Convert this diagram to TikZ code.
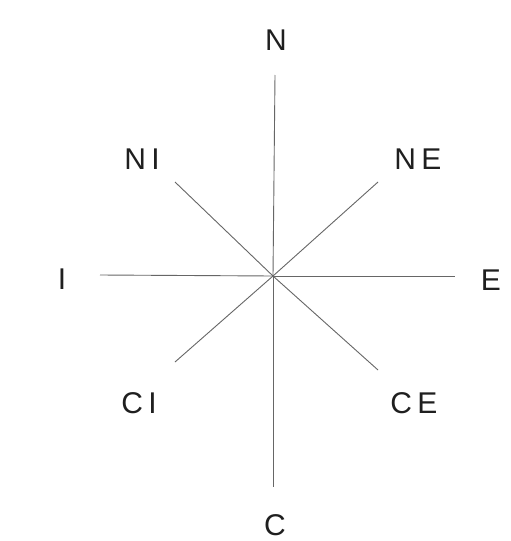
\documentclass[tikz,border=0pt]{standalone}
\usepackage{fontspec}
\setmainfont{Liberation Sans}
\begin{document}
\begin{tikzpicture}[x=1pt,y=-1pt,
  lbl/.style={text=black!88, font=\fontsize{30}{36}\selectfont, inner sep=0pt, anchor=center},
  ray/.style={draw=black!60, line width=0.9pt}]
\useasboundingbox (0,0) rectangle (511,541);
\fill[white] (0,0) rectangle (511,541);
\coordinate (o) at (273,276);
\coordinate (pn) at (275,75);
\coordinate (ps) at (273,487);
\coordinate (pw) at (100,275);
\coordinate (pe) at (455,276);
\coordinate (pnw) at (175,182);
\coordinate (pne) at (378,182);
\coordinate (psw) at (175,362);
\coordinate (pse) at (378,370);
\draw[ray] (o) -- (pn);
\draw[ray] (o) -- (ps);
\draw[ray] (o) -- (pw);
\draw[ray] (o) -- (pe);
\draw[ray] (o) -- (pnw);
\draw[ray] (o) -- (pne);
\draw[ray] (o) -- (psw);
\draw[ray] (o) -- (pse);
\node[lbl] (n) at (276,40) {N};
\node[lbl] (ni) at (142,159) {N\hspace{0.18em}I};
\node[lbl] (ne) at (418,159) {N\hspace{0.18em}E};
\node[lbl] (i) at (62,279) {I};
\node[lbl] (e) at (491,280) {E};
\node[lbl] (ci) at (139,403) {C\hspace{0.18em}I};
\node[lbl] (ce) at (414,403) {C\hspace{0.18em}E};
\node[lbl] (c) at (275,525) {C};
\end{tikzpicture}
\end{document}
